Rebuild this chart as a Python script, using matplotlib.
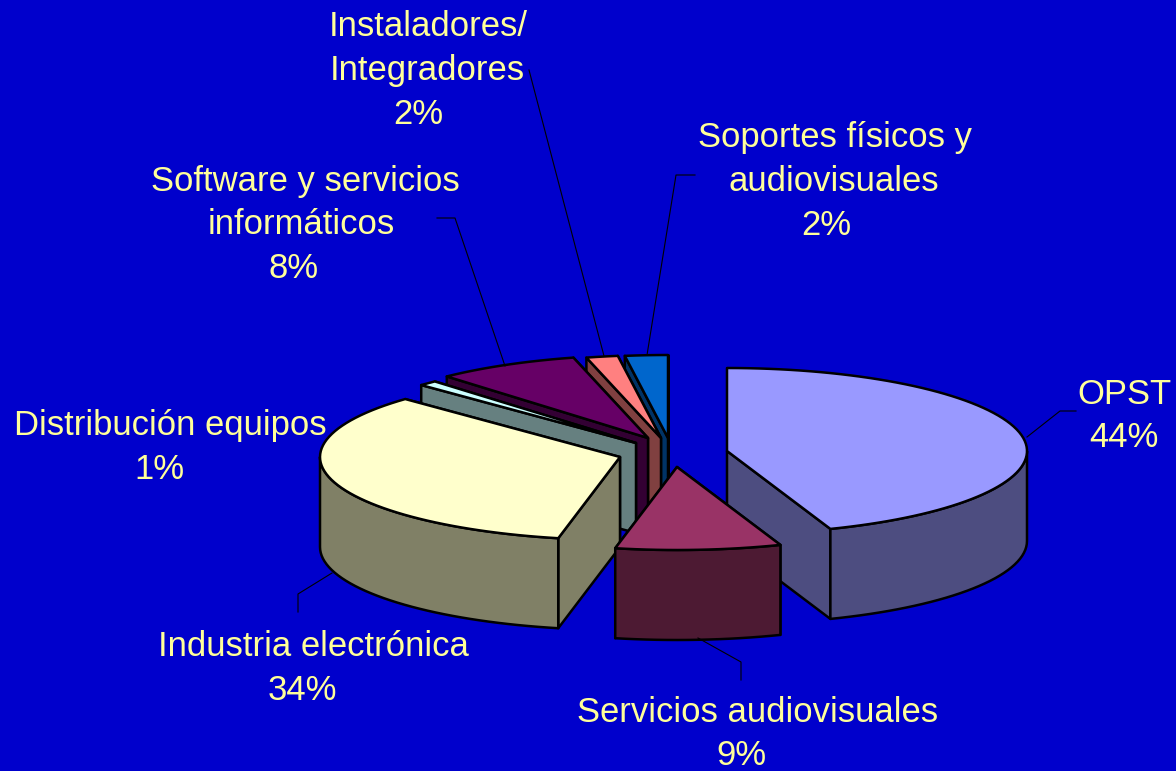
import numpy as np
import matplotlib
matplotlib.use("Agg")
import matplotlib.pyplot as plt
from matplotlib.patches import Polygon

# pie values, clockwise from 12 o'clock
categories = ["OPST", "Servicios audiovisuales", "Industria electrónica", "Distribución equipos",
              "Software y servicios informáticos", "Instaladores/ Integradores",
              "Soportes físicos y audiovisuales"]
values = [44.4, 8.9, 34.0, 1.0, 7.7, 1.7, 2.3]

# label text
label_lines = [
    ["OPST", "44%"],
    ["Servicios audiovisuales", "9%"],
    ["Industria electrónica", "34%"],
    ["Distribución equipos", "1%"],
    ["Software y servicios", "informáticos", "8%"],
    ["Instaladores/", "Integradores", "2%"],
    ["Soportes físicos y", "audiovisuales", "2%"],
]

# styling / layout, in pixels of the picture
BG = "#0000cc"
TEXT = "#ffff99"
top_colors = ["#9999ff", "#993366", "#ffffcc", "#ccffff", "#660066", "#ff8080", "#0066cc"]
side_colors = ["#4d4d80", "#4d1a33", "#808066", "#668080", "#330033", "#804040", "#003366"]
apex = [(727, 451), (677, 467), (620, 457), (636, 443), (648, 438), (661, 438), (668, 438)]
# x centre of every label line, first line y
label_x = [
    [1124, 1124],
    [758, 741],
    [313, 302],
    [170, 159],
    [305, 301, 294],
    [428, 427, 418],
    [835, 834, 826],
]
label_y = [394, 712, 647, 426, 181, 27, 138]
leaders = [
    [(1027, 437), (1060, 411), (1076, 411)],
    [(698, 638), (741, 662), (741, 680)],
    [(332, 573), (298, 594), (298, 612)],
    [],
    [(437, 218), (455, 218), (505, 366)],
    [(529, 70), (604, 356)],
    [(695, 175), (676, 175), (647, 355)],
]
RX, RY, DEPTH = 300, 83, 90
LINE_H = 43.6
FONT = 24.9


def arc_points(c, t0, t1):
    n = max(2, int(abs(t1 - t0) / 2) + 1)
    t = np.radians(np.linspace(t0, t1, n))
    return np.column_stack([c[0] + RX * np.sin(t), c[1] - RY * np.cos(t)])


def face(ax, pts, color):
    ax.add_patch(Polygon(pts, closed=True, facecolor=color, edgecolor="black",
                         linewidth=1.8, joinstyle="round"))


def draw_slice(ax, i, t0, t1):
    c = np.array(apex[i], dtype=float)
    down = np.array([0, DEPTH])
    arc = arc_points(c, t0, t1)

    start_face = np.array([c, arc[0], arc[0] + down, c + down])
    end_face = np.array([c, arc[-1], arc[-1] + down, c + down])
    if (t0 + t1) / 2 < 180:
        faces = [start_face, end_face]
    else:
        faces = [end_face, start_face]
    for f in faces:
        face(ax, f, side_colors[i])

    # outer wall only where the rim faces the viewer
    a, b = max(t0, 90), min(t1, 270)
    if a < b:
        rim = arc_points(c, a, b)
        face(ax, np.vstack([rim, (rim + down)[::-1]]), side_colors[i])

    face(ax, np.vstack([c, arc]), top_colors[i])


fig = plt.figure(figsize=(11.76, 7.71), dpi=100, facecolor=BG)
ax = fig.add_axes([0, 0, 1, 1])
ax.set_xlim(0, 1176)
ax.set_ylim(771, 0)
ax.axis("off")

edges = np.cumsum([0] + values) / sum(values) * 360

# leaders go under the pie
for pts in leaders:
    if pts:
        xs, ys = zip(*pts)
        ax.plot(xs, ys, color="black", linewidth=0.8)

# back slices first, the two front ones last
for i in [6, 5, 4, 3, 2, 0, 1]:
    draw_slice(ax, i, edges[i], edges[i + 1])

for lines, xs, y in zip(label_lines, label_x, label_y):
    for j, line in enumerate(lines):
        ax.text(xs[j], y + j * LINE_H, line, color=TEXT, fontsize=FONT, family="Liberation Sans",
                ha="center", va="center")

fig.savefig("out.png", dpi=100, facecolor=BG)
